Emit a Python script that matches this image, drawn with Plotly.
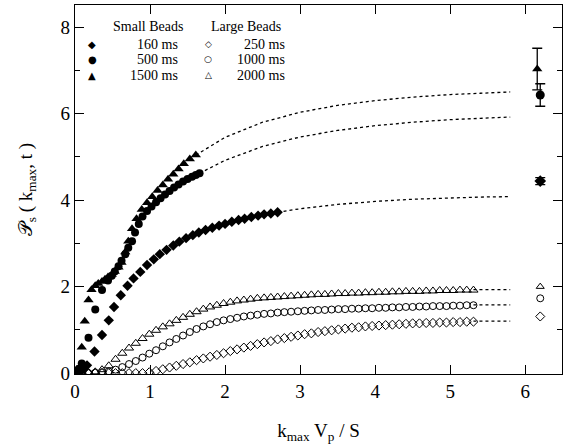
import plotly.graph_objects as go

# ---------------- data ----------------
# Small beads (filled symbols)
s1500_x = [0.00,0.04,0.09,0.13,0.18,0.22,0.27,0.31,0.36,0.40,0.44,0.49,0.53,0.58,0.62,0.67,0.71,0.76,0.82,0.89,0.96,1.03,1.10,1.17,1.24,1.31,1.38,1.45,1.53,1.61]
s1500_y = [0.00,0.05,0.60,1.20,1.69,1.93,2.02,2.07,2.12,2.17,2.22,2.28,2.35,2.45,2.56,2.80,3.05,3.34,3.57,3.78,3.94,4.08,4.22,4.35,4.48,4.60,4.72,4.84,4.95,5.04]

s500_x = [0.00,0.05,0.09,0.18,0.27,0.36,0.44,0.49,0.53,0.58,0.62,0.67,0.71,0.76,0.80,0.85,0.90,0.96,1.02,1.08,1.14,1.20,1.26,1.32,1.38,1.44,1.50,1.56,1.61,1.66]
s500_y = [0.00,0.10,0.22,0.82,1.47,1.92,2.14,2.25,2.35,2.47,2.60,2.75,2.90,3.05,3.25,3.45,3.62,3.75,3.85,3.95,4.04,4.13,4.21,4.29,4.36,4.43,4.49,4.54,4.58,4.62]

s160_x = [0.00,0.05,0.10,0.16,0.26,0.36,0.45,0.52,0.61,0.70,0.78,0.87,0.96,1.05,1.13,1.22,1.31,1.39,1.48,1.57,1.65,1.74,1.83,1.92,2.00,2.09,2.18,2.26,2.35,2.44,2.52,2.61,2.70]
s160_y = [0.00,0.02,0.08,0.18,0.50,0.88,1.22,1.53,1.80,2.02,2.19,2.34,2.50,2.63,2.75,2.85,2.95,3.04,3.12,3.19,3.25,3.31,3.36,3.41,3.45,3.50,3.54,3.57,3.61,3.64,3.67,3.69,3.72]

# Large beads (open symbols), shared x positions
large_x = [0.00,0.09,0.18,0.27,0.36,0.45,0.54,0.63,0.72,0.81,
           0.90,0.99,1.08,1.17,1.26,1.35,1.44,1.53,1.62,1.71,
           1.80,1.89,1.98,2.07,2.16,2.25,2.34,2.43,2.52,2.61,
           2.70,2.79,2.88,2.97,3.06,3.15,3.24,3.33,3.42,3.51,
           3.60,3.69,3.78,3.87,3.96,4.05,4.14,4.23,4.32,4.41,
           4.50,4.59,4.68,4.77,4.86,4.95,5.04,5.13,5.22,5.31]
l2000_y = [0.00,0.00,0.01,0.03,0.08,0.17,0.32,0.46,0.58,0.69,
           0.80,0.90,0.99,1.07,1.14,1.22,1.29,1.36,1.42,1.48,
           1.53,1.57,1.61,1.64,1.67,1.69,1.71,1.73,1.74,1.75,
           1.76,1.77,1.78,1.79,1.80,1.81,1.82,1.82,1.83,1.84,
           1.84,1.85,1.85,1.86,1.86,1.87,1.87,1.88,1.88,1.89,
           1.89,1.89,1.90,1.90,1.91,1.91,1.91,1.92,1.92,1.92]
l1000_y = [0.00,0.00,0.00,0.01,0.02,0.04,0.08,0.14,0.21,0.28,
           0.36,0.45,0.53,0.62,0.71,0.79,0.87,0.95,1.02,1.08,
           1.13,1.18,1.22,1.25,1.28,1.31,1.33,1.35,1.37,1.38,
           1.40,1.41,1.42,1.43,1.44,1.45,1.46,1.46,1.47,1.48,
           1.48,1.49,1.49,1.50,1.50,1.51,1.51,1.52,1.52,1.53,
           1.53,1.54,1.54,1.55,1.55,1.55,1.56,1.56,1.57,1.57]
l250_y = [0.00,0.00,0.00,0.00,0.00,0.00,0.00,0.00,0.00,0.00,
          0.00,0.02,0.05,0.09,0.13,0.17,0.21,0.25,0.30,0.34,
          0.38,0.42,0.46,0.51,0.55,0.59,0.63,0.67,0.71,0.74,
          0.78,0.81,0.84,0.87,0.90,0.92,0.95,0.97,0.99,1.01,
          1.03,1.05,1.06,1.08,1.09,1.10,1.11,1.12,1.13,1.14,
          1.15,1.15,1.16,1.16,1.17,1.17,1.18,1.18,1.19,1.19]

# Fitted curves (dotted continuation)
fit1500_x = [1.61, 2.0, 2.5, 3.0, 3.5, 4.0, 4.5, 5.0, 5.4, 5.8]
fit1500_y = [5.04, 5.45, 5.80, 6.03, 6.19, 6.30, 6.38, 6.44, 6.47, 6.50]
fit500_x = [1.66, 2.0, 2.5, 3.0, 3.5, 4.0, 4.5, 5.0, 5.4, 5.8]
fit500_y = [4.62, 4.92, 5.24, 5.46, 5.61, 5.72, 5.80, 5.86, 5.89, 5.92]
fit160_x = [2.70, 3.0, 3.5, 4.0, 4.5, 5.0, 5.4, 5.8]
fit160_y = [3.72, 3.80, 3.90, 3.97, 4.02, 4.05, 4.07, 4.08]
fitL_x = [5.31, 5.8]
fit2000_y = [1.93, 1.93]
fit1000_y = [1.58, 1.58]
fit250_y = [1.20, 1.20]

# Asymptotic values plotted at the right
asym_small_x = [6.16, 6.20, 6.20]
asym_small_y = [7.03, 6.43, 4.44]
asym_small_err = [0.48, 0.26, 0.08]
asym_large_x = [6.20, 6.20, 6.20]
asym_large_y = [2.00, 1.73, 1.31]

# Legend
small_labels = ["160 ms", "500 ms", "1500 ms"]
large_labels = ["250 ms", "1000 ms", "2000 ms"]
small_glyphs = ["\u25C6", "\u25CF", "\u25B2"]
large_glyphs = ["\u25C7", "\u25CB", "\u25B3"]

# ---------------- figure ----------------
BLACK = "black"
fig = go.Figure()

def dotted(x, y):
    fig.add_trace(go.Scatter(x=x, y=y, mode="lines",
                             line=dict(color=BLACK, width=1.3, dash="dot"),
                             showlegend=False, hoverinfo="skip"))

for fx, fy in [(fit1500_x, fit1500_y), (fit500_x, fit500_y), (fit160_x, fit160_y),
               (fitL_x, fit2000_y), (fitL_x, fit1000_y), (fitL_x, fit250_y)]:
    dotted(fx, fy)

def markers(x, y, symbol, size, lw=0):
    fig.add_trace(go.Scatter(x=x, y=y, mode="markers",
                             marker=dict(symbol=symbol, size=size, color=BLACK,
                                         line=dict(color=BLACK, width=lw)),
                             showlegend=False))

markers(large_x, l250_y, "diamond-open", 7, 1)
markers(large_x, l1000_y, "circle-open", 7, 1)
markers(large_x, l2000_y, "triangle-up-open", 8, 1)
markers(s160_x, s160_y, "diamond", 8)
markers(s500_x, s500_y, "circle", 8)
markers(s1500_x, s1500_y, "triangle-up", 9)

# right-side asymptotes
sym_small = ["triangle-up", "circle", "diamond"]
sym_large = ["triangle-up-open", "circle-open", "diamond-open"]
for i in range(3):
    fig.add_trace(go.Scatter(x=[asym_small_x[i]], y=[asym_small_y[i]], mode="markers",
                             marker=dict(symbol=sym_small[i], size=9, color=BLACK),
                             error_y=dict(type="data", array=[asym_small_err[i]],
                                          color=BLACK, thickness=1.3, width=5),
                             showlegend=False))
    fig.add_trace(go.Scatter(x=[asym_large_x[i]], y=[asym_large_y[i]], mode="markers",
                             marker=dict(symbol=sym_large[i], size=7, color=BLACK,
                                         line=dict(width=1, color=BLACK)),
                             showlegend=False))

# legend drawn as text
X0, X1, Y0, Y1 = 75, 562, 5, 374
def px(xp):
    return (xp - X0) / (X1 - X0)
def py(yp):
    return (Y1 - yp) / (Y1 - Y0)

SERIF = "Liberation Serif"
ann = []
ann.append(dict(x=px(148), y=py(27), text="Small Beads"))
ann.append(dict(x=px(246), y=py(27), text="Large Beads"))
rows_y = [44, 59.5, 75]
for i in range(3):
    ann.append(dict(x=px(180), y=py(rows_y[i]), text=small_labels[i], xanchor="right"))
    ann.append(dict(x=px(287), y=py(rows_y[i]), text=large_labels[i], xanchor="right"))
    ann.append(dict(x=px(92), y=py(rows_y[i]), text=small_glyphs[i],
                    font=dict(family="DejaVu Sans", size=10, color=BLACK)))
    ann.append(dict(x=px(208), y=py(rows_y[i]), text=large_glyphs[i],
                    font=dict(family="DejaVu Sans", size=9, color=BLACK)))
for a in ann:
    a.setdefault("xanchor", "center")
    a.update(xref="paper", yref="paper", yanchor="middle", showarrow=False)
    a.setdefault("font", dict(family=SERIF, size=14, color=BLACK))
fig.update_layout(annotations=ann)

axis_common = dict(showline=True, linecolor=BLACK, linewidth=1.3, mirror="ticks",
                   ticks="inside", tickcolor=BLACK, tickwidth=1.3, ticklen=9,
                   showgrid=False, zeroline=False,
                   tickfont=dict(family=SERIF, size=19, color=BLACK))

fig.update_xaxes(range=[0, 6.49], tickvals=[0, 1, 2, 3, 4, 5, 6],
                 title=dict(text="k<sub>max</sub> V<sub>p</sub> / S",
                            font=dict(family=SERIF, size=19, color=BLACK), standoff=22),
                 **axis_common)
fig.update_yaxes(range=[-0.02, 8.51], tickvals=[0, 2, 4, 6, 8],
                 minor=dict(tickvals=[1, 3, 5, 7], ticks="inside", ticklen=5,
                            tickcolor=BLACK, tickwidth=1.3),
                 title=dict(text="\U0001D4AB<sub>s</sub> ( k<sub>max</sub>, t )",
                            font=dict(family=SERIF, size=19, color=BLACK), standoff=22),
                 **axis_common)

fig.update_layout(width=566, height=445,
                  margin=dict(l=X0, r=566 - X1, t=Y0, b=445 - Y1),
                  plot_bgcolor="white", paper_bgcolor="white",
                  showlegend=False)

fig.write_html("out.html")
